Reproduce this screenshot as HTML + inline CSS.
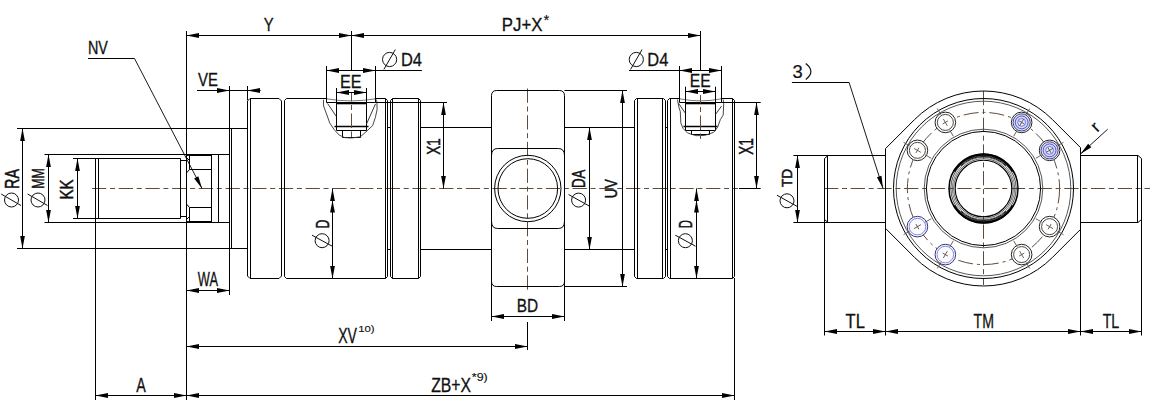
<!DOCTYPE html>
<html><head><meta charset="utf-8"><style>
html,body{margin:0;padding:0;background:#fff;width:1150px;height:404px;overflow:hidden}
svg{display:block;font-family:"Liberation Sans",sans-serif}
</style></head><body>
<svg width="1150" height="404" viewBox="0 0 1150 404">
<line x1="92" y1="188.5" x2="738" y2="188.5" stroke="#5e4c3c" stroke-width="1" stroke-dasharray="14.3,3.7,5,3.7" stroke-dashoffset="0"/>
<line x1="527.5" y1="88.5" x2="527.5" y2="292" stroke="#5e4c3c" stroke-width="1" stroke-dasharray="14.3,3.7,5,3.7" stroke-dashoffset="0"/>
<line x1="351.5" y1="93" x2="351.5" y2="140" stroke="#5e4c3c" stroke-width="1" stroke-dasharray="14.3,3.7,5,3.7" stroke-dashoffset="6"/>
<line x1="700.5" y1="95" x2="700.5" y2="139" stroke="#5e4c3c" stroke-width="1" stroke-dasharray="14.3,3.7,5,3.7" stroke-dashoffset="6"/>
<line x1="186.5" y1="35.5" x2="700.5" y2="35.5" stroke="#000" stroke-width="1"/>
<path d="M186.5,35.5 L199,33.1 L199,37.9 Z" fill="#000"/>
<path d="M351.5,35.5 L339,37.9 L339,33.1 Z" fill="#000"/>
<path d="M351.5,35.5 L364,33.1 L364,37.9 Z" fill="#000"/>
<path d="M700.5,35.5 L688,37.9 L688,33.1 Z" fill="#000"/>
<line x1="186.5" y1="31" x2="186.5" y2="400" stroke="#000" stroke-width="1"/>
<line x1="351.5" y1="31" x2="351.5" y2="70" stroke="#000" stroke-width="1"/>
<line x1="700.5" y1="31" x2="700.5" y2="70" stroke="#000" stroke-width="1"/>
<text x="263.83" y="31.45" font-size="19.04" textLength="9.85" lengthAdjust="spacingAndGlyphs" fill="#111" stroke="#111" stroke-width="0.3">Y</text>
<text x="501.87" y="31.26" font-size="18.91" textLength="40.63" lengthAdjust="spacingAndGlyphs" fill="#111" stroke="#111" stroke-width="0.3">PJ+X</text>
<text x="543.78" y="25.4" font-size="14.25" textLength="5.34" lengthAdjust="spacingAndGlyphs" fill="#111" stroke="#111" stroke-width="0.2">*</text>
<path d="M250,98.5 L279,98.5 L281.5,101 L281.5,276 L279,278.5 L250,278.5 L247.5,276 L247.5,101Z" fill="none" stroke="#000" stroke-width="1" stroke-linejoin="miter"/>
<line x1="250.5" y1="98.5" x2="250.5" y2="278.5" stroke="#000" stroke-width="1"/>
<path d="M286.5,98.5 L385.5,98.5 L387.5,100.5 L387.5,276.5 L385.5,278.5 L286.5,278.5 L284.5,276.5 L284.5,100.5Z" fill="none" stroke="#000" stroke-width="1" stroke-linejoin="miter"/>
<line x1="385.5" y1="98.5" x2="385.5" y2="278.5" stroke="#000" stroke-width="1"/>
<path d="M392.5,98.5 L418.5,98.5 L420.5,100.5 L420.5,276.5 L418.5,278.5 L392.5,278.5 L390.5,276.5 L390.5,100.5Z" fill="none" stroke="#000" stroke-width="1" stroke-linejoin="miter"/>
<line x1="392.5" y1="98.5" x2="392.5" y2="278.5" stroke="#000" stroke-width="1"/>
<line x1="418.5" y1="98.5" x2="418.5" y2="278.5" stroke="#000" stroke-width="1"/>
<path d="M636.5,98.5 L663.5,98.5 L665.5,100.5 L665.5,276.5 L663.5,278.5 L636.5,278.5 L634.5,276.5 L634.5,100.5Z" fill="none" stroke="#000" stroke-width="1" stroke-linejoin="miter"/>
<line x1="637.5" y1="98.5" x2="637.5" y2="278.5" stroke="#000" stroke-width="1"/>
<line x1="662.5" y1="98.5" x2="662.5" y2="278.5" stroke="#000" stroke-width="1"/>
<path d="M669.5,98.5 L732.5,98.5 L734.5,100.5 L734.5,276.5 L732.5,278.5 L669.5,278.5 L667.5,276.5 L667.5,100.5Z" fill="none" stroke="#000" stroke-width="1" stroke-linejoin="miter"/>
<line x1="670.5" y1="98.5" x2="670.5" y2="278.5" stroke="#000" stroke-width="1"/>
<line x1="732.5" y1="98.5" x2="732.5" y2="278.5" stroke="#000" stroke-width="1"/>
<rect x="327.1" y="96" width="47.8" height="6" fill="#fff"/>
<path d="M326.5,98.8 Q351,103 375.5,98.8" fill="none" stroke="#555" stroke-width="0.8" />
<line x1="326.5" y1="102.5" x2="375.5" y2="102.5" stroke="#000" stroke-width="1"/>
<line x1="336.5" y1="103.5" x2="366.5" y2="103.5" stroke="#000" stroke-width="1.6"/>
<line x1="336.5" y1="102.5" x2="336.5" y2="130.5" stroke="#000" stroke-width="1"/>
<line x1="366.5" y1="102.5" x2="366.5" y2="130.5" stroke="#000" stroke-width="1"/>
<line x1="334.5" y1="126.5" x2="368.5" y2="126.5" stroke="#000" stroke-width="1.3"/>
<line x1="336.5" y1="130.5" x2="366.5" y2="130.5" stroke="#000" stroke-width="1"/>
<path d="M342.5,130.5 L342.5,137.5 L360.5,137.5 L360.5,130.5" fill="none" stroke="#000" stroke-width="1" stroke-linejoin="miter"/>
<path d="M323.5,99.7 323.6,106 326.9,115 329.7,122.9 334.2,129.6 339.2,135.1 344.8,137.6 351.4,138 360.4,136.8 366,131.8 372.6,125.7 375.4,117.3 377.1,109.5 376.9,101.7 375.7,99" fill="none" stroke="#333" stroke-width="0.9" stroke-linejoin="round"/>
<line x1="327.5" y1="103.4" x2="336.5" y2="116.7" stroke="#222" stroke-width="0.9"/>
<line x1="366.5" y1="124" x2="375.5" y2="103.9" stroke="#222" stroke-width="0.9"/>
<rect x="680.1" y="96" width="40.8" height="6" fill="#fff"/>
<path d="M679.5,98.8 Q700.5,103 721.5,98.8" fill="none" stroke="#555" stroke-width="0.8" />
<line x1="679.5" y1="102.5" x2="721.5" y2="102.5" stroke="#000" stroke-width="1"/>
<line x1="685.5" y1="103.5" x2="715.5" y2="103.5" stroke="#000" stroke-width="1.6"/>
<line x1="685.5" y1="102.5" x2="685.5" y2="130.5" stroke="#000" stroke-width="1"/>
<line x1="715.5" y1="102.5" x2="715.5" y2="130.5" stroke="#000" stroke-width="1"/>
<line x1="683.5" y1="126.5" x2="717.5" y2="126.5" stroke="#000" stroke-width="1.3"/>
<line x1="685.5" y1="130.5" x2="715.5" y2="130.5" stroke="#000" stroke-width="1"/>
<path d="M691.5,130.5 L691.5,134.5 L709.5,134.5 L709.5,130.5" fill="none" stroke="#000" stroke-width="1" stroke-linejoin="miter"/>
<path d="M677.5,99.5 678.6,106.1 680.3,111.7 680.8,122.9 683,128.4 687.5,132.9 695.9,135.7 704.8,135.4 713.7,132.3 717.6,127.3 720.4,119.5 723.2,115.1 723.7,103.9 723.2,99.5" fill="none" stroke="#333" stroke-width="0.9" stroke-linejoin="round"/>
<line x1="678.6" y1="103.4" x2="685.5" y2="113.4" stroke="#222" stroke-width="0.9"/>
<line x1="715.5" y1="114.5" x2="721.5" y2="106.1" stroke="#222" stroke-width="0.9"/>
<line x1="351.5" y1="93" x2="351.5" y2="140" stroke="#5e4c3c" stroke-width="1" stroke-dasharray="14.3,3.7,5,3.7" stroke-dashoffset="6"/>
<line x1="700.5" y1="95" x2="700.5" y2="139" stroke="#5e4c3c" stroke-width="1" stroke-dasharray="14.3,3.7,5,3.7" stroke-dashoffset="6"/>
<line x1="326.5" y1="70.5" x2="421.9" y2="70.5" stroke="#000" stroke-width="1"/>
<path d="M326.5,70.5 L339,68.1 L339,72.9 Z" fill="#000"/>
<path d="M375.5,70.5 L363,72.9 L363,68.1 Z" fill="#000"/>
<line x1="326.5" y1="66" x2="326.5" y2="102.5" stroke="#000" stroke-width="1"/>
<line x1="375.5" y1="66" x2="375.5" y2="102.5" stroke="#000" stroke-width="1"/>
<text x="340.03" y="87.85" font-size="18.46" textLength="21.52" lengthAdjust="spacingAndGlyphs" fill="#111" stroke="#111" stroke-width="0.3">EE</text>
<line x1="336.5" y1="92.5" x2="366.5" y2="92.5" stroke="#000" stroke-width="1"/>
<path d="M336.5,92.5 L349,90.1 L349,94.9 Z" fill="#000"/>
<path d="M366.5,92.5 L354,94.9 L354,90.1 Z" fill="#000"/>
<line x1="336.5" y1="88" x2="336.5" y2="103" stroke="#000" stroke-width="1"/>
<line x1="366.5" y1="88" x2="366.5" y2="103" stroke="#000" stroke-width="1"/>
<circle cx="389.6" cy="59.5" r="7.1" fill="none" stroke="#111" stroke-width="1"/>
<line x1="383.85" y1="69.46" x2="395.35" y2="49.54" stroke="#111" stroke-width="1"/>
<text x="400.9" y="66.35" font-size="18.9" textLength="21.03" lengthAdjust="spacingAndGlyphs" fill="#111" stroke="#111" stroke-width="0.3">D4</text>
<line x1="629" y1="70.5" x2="721.6" y2="70.5" stroke="#000" stroke-width="1"/>
<path d="M679.5,70.5 L692,68.1 L692,72.9 Z" fill="#000"/>
<path d="M721.5,70.5 L709,72.9 L709,68.1 Z" fill="#000"/>
<line x1="679.5" y1="66" x2="679.5" y2="102.5" stroke="#000" stroke-width="1"/>
<line x1="721.5" y1="66" x2="721.5" y2="102.5" stroke="#000" stroke-width="1"/>
<text x="689.77" y="87.15" font-size="17.59" textLength="20.85" lengthAdjust="spacingAndGlyphs" fill="#111" stroke="#111" stroke-width="0.3">EE</text>
<line x1="685.5" y1="91.5" x2="715.5" y2="91.5" stroke="#000" stroke-width="1"/>
<path d="M685.5,91.5 L698,89.1 L698,93.9 Z" fill="#000"/>
<path d="M715.5,91.5 L703,93.9 L703,89.1 Z" fill="#000"/>
<line x1="685.5" y1="86.7" x2="685.5" y2="103" stroke="#000" stroke-width="1"/>
<line x1="715.5" y1="86.7" x2="715.5" y2="103" stroke="#000" stroke-width="1"/>
<circle cx="636.3" cy="59.5" r="7.1" fill="none" stroke="#111" stroke-width="1"/>
<line x1="630.55" y1="69.46" x2="642.05" y2="49.54" stroke="#111" stroke-width="1"/>
<text x="647.3" y="66.35" font-size="18.9" textLength="21.03" lengthAdjust="spacingAndGlyphs" fill="#111" stroke="#111" stroke-width="0.3">D4</text>
<line x1="197" y1="90.5" x2="260.6" y2="90.5" stroke="#000" stroke-width="1"/>
<path d="M229.5,90.5 L217,92.9 L217,88.1 Z" fill="#000"/>
<path d="M247.5,90.5 L260,88.1 L260,92.9 Z" fill="#000"/>
<line x1="229.5" y1="86" x2="229.5" y2="128.5" stroke="#000" stroke-width="1"/>
<line x1="247.5" y1="86" x2="247.5" y2="100" stroke="#000" stroke-width="1"/>
<text x="198.08" y="86.35" font-size="19.19" textLength="19.92" lengthAdjust="spacingAndGlyphs" fill="#111" stroke="#111" stroke-width="0.3">VE</text>
<text x="87.97" y="54.35" font-size="19.19" textLength="19.95" lengthAdjust="spacingAndGlyphs" fill="#111" stroke="#111" stroke-width="0.3">NV</text>
<line x1="88" y1="58.5" x2="134.5" y2="58.5" stroke="#000" stroke-width="1"/>
<line x1="134.5" y1="58.5" x2="202" y2="188.5" stroke="#000" stroke-width="0.9"/>
<path d="M202,188.5 L194.11,178.51 L198.37,176.3 Z" fill="#000"/>
<line x1="17" y1="128.5" x2="247.5" y2="128.5" stroke="#000" stroke-width="1"/>
<line x1="17" y1="248.5" x2="247.5" y2="248.5" stroke="#000" stroke-width="1"/>
<line x1="22.5" y1="128.5" x2="22.5" y2="248.5" stroke="#000" stroke-width="1"/>
<path d="M22.5,128.5 L24.9,141 L20.1,141 Z" fill="#000"/>
<path d="M22.5,248.5 L20.1,236 L24.9,236 Z" fill="#000"/>
<line x1="44.5" y1="154.5" x2="229" y2="154.5" stroke="#000" stroke-width="1"/>
<line x1="44.5" y1="222.5" x2="229" y2="222.5" stroke="#000" stroke-width="1"/>
<line x1="48.5" y1="154.5" x2="48.5" y2="222.5" stroke="#000" stroke-width="1"/>
<path d="M48.5,154.5 L50.9,167 L46.1,167 Z" fill="#000"/>
<path d="M48.5,222.5 L46.1,210 L50.9,210 Z" fill="#000"/>
<line x1="73" y1="158.5" x2="180.5" y2="158.5" stroke="#000" stroke-width="1"/>
<line x1="73" y1="218.5" x2="180.5" y2="218.5" stroke="#000" stroke-width="1"/>
<line x1="77.5" y1="158.5" x2="77.5" y2="218.5" stroke="#000" stroke-width="1"/>
<path d="M77.5,158.5 L79.9,171 L75.1,171 Z" fill="#000"/>
<path d="M77.5,218.5 L75.1,206 L79.9,206 Z" fill="#000"/>
<text transform="translate(18.55,187.75) rotate(-90)" x="-1.18" y="0" font-size="19.33" textLength="19.91" lengthAdjust="spacingAndGlyphs" fill="#111" stroke="#111" stroke-width="0.5">RA</text>
<circle cx="11.5" cy="200" r="7" fill="none" stroke="#111" stroke-width="1"/>
<line x1="1.11" y1="194" x2="21.03" y2="205.5" stroke="#111" stroke-width="1"/>
<text transform="translate(43.75,187.75) rotate(-90)" x="-1.02" y="0" font-size="17.15" textLength="20.74" lengthAdjust="spacingAndGlyphs" fill="#111" stroke="#111" stroke-width="0.5">MM</text>
<circle cx="38" cy="200" r="7" fill="none" stroke="#111" stroke-width="1"/>
<line x1="27.61" y1="194" x2="47.53" y2="205.5" stroke="#111" stroke-width="1"/>
<text transform="translate(73.15,198.35) rotate(-90)" x="-1.24" y="0" font-size="18.02" textLength="20.23" lengthAdjust="spacingAndGlyphs" fill="#111" stroke="#111" stroke-width="0.5">KK</text>
<line x1="95.5" y1="158.5" x2="95.5" y2="400" stroke="#000" stroke-width="1"/>
<line x1="98.5" y1="158.5" x2="98.5" y2="218.5" stroke="#000" stroke-width="1"/>
<line x1="180.5" y1="158.5" x2="180.5" y2="218.5" stroke="#000" stroke-width="1"/>
<line x1="180.5" y1="160.5" x2="186.5" y2="160.5" stroke="#000" stroke-width="1"/>
<line x1="180.5" y1="216.5" x2="186.5" y2="216.5" stroke="#000" stroke-width="1"/>
<line x1="186.5" y1="155" x2="211.5" y2="155" stroke="#000" stroke-width="1.8"/>
<line x1="186.5" y1="222" x2="211.5" y2="222" stroke="#000" stroke-width="1.8"/>
<path d="M189.5,155.5 L211.5,155.5 L211.5,169.5 L189.5,169.5 L189.5,155.5" fill="none" stroke="#000" stroke-width="1" stroke-linejoin="miter"/>
<path d="M189.5,207.5 L211.5,207.5 L211.5,221.5 L189.5,221.5 L189.5,207.5" fill="none" stroke="#000" stroke-width="1" stroke-linejoin="miter"/>
<line x1="186.5" y1="157.5" x2="189.5" y2="160.5" stroke="#000" stroke-width="1"/>
<line x1="186.5" y1="219.5" x2="189.5" y2="216.5" stroke="#000" stroke-width="1"/>
<line x1="189.5" y1="169.5" x2="186.5" y2="173" stroke="#000" stroke-width="1"/>
<line x1="189.5" y1="207.5" x2="186.5" y2="204" stroke="#000" stroke-width="1"/>
<line x1="211.5" y1="154.5" x2="211.5" y2="222.5" stroke="#000" stroke-width="1"/>
<line x1="218.5" y1="154.5" x2="218.5" y2="222.5" stroke="#000" stroke-width="1"/>
<line x1="229.5" y1="128.5" x2="229.5" y2="248.5" stroke="#000" stroke-width="1"/>
<line x1="231.5" y1="128.5" x2="231.5" y2="248.5" stroke="#000" stroke-width="1"/>
<line x1="186.5" y1="290.5" x2="229.5" y2="290.5" stroke="#000" stroke-width="1"/>
<path d="M186.5,290.5 L199,288.1 L199,292.9 Z" fill="#000"/>
<path d="M229.5,290.5 L217,292.9 L217,288.1 Z" fill="#000"/>
<line x1="229.5" y1="248.5" x2="229.5" y2="295" stroke="#000" stroke-width="1"/>
<text x="197.79" y="286.45" font-size="19.62" textLength="20.19" lengthAdjust="spacingAndGlyphs" fill="#111" stroke="#111" stroke-width="0.3">WA</text>
<line x1="95.5" y1="395.5" x2="734.5" y2="395.5" stroke="#000" stroke-width="1"/>
<path d="M95.5,395.5 L108,393.1 L108,397.9 Z" fill="#000"/>
<path d="M186.5,395.5 L174,397.9 L174,393.1 Z" fill="#000"/>
<path d="M186.5,395.5 L199,393.1 L199,397.9 Z" fill="#000"/>
<path d="M734.5,395.5 L722,397.9 L722,393.1 Z" fill="#000"/>
<text x="136.32" y="391.65" font-size="19.62" textLength="9.56" lengthAdjust="spacingAndGlyphs" fill="#111" stroke="#111" stroke-width="0.3">A</text>
<text x="431.15" y="391.65" font-size="20.35" textLength="39.83" lengthAdjust="spacingAndGlyphs" fill="#111" stroke="#111" stroke-width="0.3">ZB+X</text>
<text x="471.88" y="381.35" font-size="10.03" textLength="15.82" lengthAdjust="spacingAndGlyphs" fill="#111" stroke="#111" stroke-width="0.15">*9)</text>
<line x1="186.5" y1="346.5" x2="527.5" y2="346.5" stroke="#000" stroke-width="1"/>
<path d="M186.5,346.5 L199,344.1 L199,348.9 Z" fill="#000"/>
<path d="M527.5,346.5 L515,348.9 L515,344.1 Z" fill="#000"/>
<line x1="527.5" y1="322" x2="527.5" y2="350" stroke="#000" stroke-width="1"/>
<text x="338.13" y="342.85" font-size="21.37" textLength="18.79" lengthAdjust="spacingAndGlyphs" fill="#111" stroke="#111" stroke-width="0.3">XV</text>
<text x="358.21" y="332.19" font-size="9.82" textLength="16.42" lengthAdjust="spacingAndGlyphs" fill="#111" stroke="#111" stroke-width="0.15">10)</text>
<line x1="734.5" y1="278" x2="734.5" y2="400" stroke="#000" stroke-width="1"/>
<line x1="420.5" y1="127.5" x2="491.5" y2="127.5" stroke="#000" stroke-width="1"/>
<line x1="564.5" y1="127.5" x2="634.5" y2="127.5" stroke="#000" stroke-width="1"/>
<line x1="420.5" y1="249.5" x2="491.5" y2="249.5" stroke="#000" stroke-width="1"/>
<line x1="564.5" y1="249.5" x2="634.5" y2="249.5" stroke="#000" stroke-width="1"/>
<line x1="387.5" y1="127.5" x2="390.5" y2="127.5" stroke="#000" stroke-width="1"/>
<line x1="387.5" y1="249.5" x2="390.5" y2="249.5" stroke="#000" stroke-width="1"/>
<line x1="665.5" y1="127.5" x2="667.5" y2="127.5" stroke="#000" stroke-width="1"/>
<line x1="665.5" y1="249.5" x2="667.5" y2="249.5" stroke="#000" stroke-width="1"/>
<path d="M496.7,90.5 L559.3,90.5 Q564.5,90.5 564.5,95.7 L564.5,281.3 Q564.5,286.5 559.3,286.5 L496.7,286.5 Q491.5,286.5 491.5,281.3 L491.5,95.7 Q491.5,90.5 496.7,90.5 Z" fill="none" stroke="#000" stroke-width="1" />
<path d="M491.5,155.7 Q491.5,148.5 497.7,148.5 L558.3,148.5 Q564.5,148.5 564.5,155.7" fill="none" stroke="#000" stroke-width="1" />
<path d="M491.5,221.3 Q491.5,228.5 497.7,228.5 L558.3,228.5 Q564.5,228.5 564.5,221.3" fill="none" stroke="#000" stroke-width="1" />
<circle cx="527.8" cy="188.5" r="33.2" fill="none" stroke="#000" stroke-width="1"/>
<circle cx="527.8" cy="188.5" r="29.8" fill="none" stroke="#000" stroke-width="1"/>
<line x1="491.5" y1="316.5" x2="564.5" y2="316.5" stroke="#000" stroke-width="1"/>
<path d="M491.5,316.5 L504,314.1 L504,318.9 Z" fill="#000"/>
<path d="M564.5,316.5 L552,318.9 L552,314.1 Z" fill="#000"/>
<line x1="491.5" y1="281" x2="491.5" y2="321" stroke="#000" stroke-width="1"/>
<line x1="564.5" y1="281" x2="564.5" y2="321" stroke="#000" stroke-width="1"/>
<text x="516.69" y="312.25" font-size="19.04" textLength="21.41" lengthAdjust="spacingAndGlyphs" fill="#111" stroke="#111" stroke-width="0.3">BD</text>
<line x1="375.5" y1="102.5" x2="447" y2="102.5" stroke="#000" stroke-width="1"/>
<line x1="443.5" y1="102.5" x2="443.5" y2="188.5" stroke="#000" stroke-width="1"/>
<path d="M443.5,102.5 L445.9,115 L441.1,115 Z" fill="#000"/>
<path d="M443.5,188.5 L441.1,176 L445.9,176 Z" fill="#000"/>
<text transform="translate(439.55,154.45) rotate(-90)" x="-0.31" y="0" font-size="18.75" textLength="16.47" lengthAdjust="spacingAndGlyphs" fill="#111" stroke="#111" stroke-width="0.5">X1</text>
<line x1="332.5" y1="188.5" x2="332.5" y2="278.5" stroke="#000" stroke-width="1"/>
<path d="M332.5,188.5 L334.9,201 L330.1,201 Z" fill="#000"/>
<path d="M332.5,200 L334.9,212.5 L330.1,212.5 Z" fill="#000"/>
<path d="M332.5,278.5 L330.1,266 L334.9,266 Z" fill="#000"/>
<text transform="translate(328.65,227.25) rotate(-90)" x="-0.97" y="0" font-size="18.46" textLength="8.54" lengthAdjust="spacingAndGlyphs" fill="#111" stroke="#111" stroke-width="0.5">D</text>
<circle cx="322.1" cy="240.7" r="7" fill="none" stroke="#111" stroke-width="1"/>
<line x1="312" y1="235.2" x2="332.2" y2="246.2" stroke="#111" stroke-width="1"/>
<line x1="589.5" y1="127.5" x2="589.5" y2="249.5" stroke="#000" stroke-width="1"/>
<path d="M589.5,127.5 L591.9,140 L587.1,140 Z" fill="#000"/>
<path d="M589.5,249.5 L587.1,237 L591.9,237 Z" fill="#000"/>
<text transform="translate(585.15,186.95) rotate(-90)" x="-1.09" y="0" font-size="18.6" textLength="18.52" lengthAdjust="spacingAndGlyphs" fill="#111" stroke="#111" stroke-width="0.5">DA</text>
<circle cx="578.6" cy="200.1" r="7" fill="none" stroke="#111" stroke-width="1"/>
<line x1="568.54" y1="194.52" x2="589.1" y2="205.92" stroke="#111" stroke-width="1"/>
<line x1="564.5" y1="90.5" x2="627" y2="90.5" stroke="#000" stroke-width="1"/>
<line x1="564.5" y1="286.5" x2="627" y2="286.5" stroke="#000" stroke-width="1"/>
<line x1="622.5" y1="90.5" x2="622.5" y2="286.5" stroke="#000" stroke-width="1"/>
<path d="M622.5,90.5 L624.9,103 L620.1,103 Z" fill="#000"/>
<path d="M622.5,286.5 L620.1,274 L624.9,274 Z" fill="#000"/>
<text transform="translate(617.39,197.15) rotate(-90)" x="-1.05" y="0" font-size="16.48" textLength="19.03" lengthAdjust="spacingAndGlyphs" fill="#111" stroke="#111" stroke-width="0.5">UV</text>
<line x1="696.5" y1="188.5" x2="696.5" y2="278.5" stroke="#000" stroke-width="1"/>
<path d="M696.5,188.5 L698.9,201 L694.1,201 Z" fill="#000"/>
<path d="M696.5,200 L698.9,212.5 L694.1,212.5 Z" fill="#000"/>
<path d="M696.5,278.5 L694.1,266 L698.9,266 Z" fill="#000"/>
<text transform="translate(691.55,227.25) rotate(-90)" x="-0.93" y="0" font-size="17.88" textLength="8.17" lengthAdjust="spacingAndGlyphs" fill="#111" stroke="#111" stroke-width="0.5">D</text>
<circle cx="685.4" cy="240.7" r="7" fill="none" stroke="#111" stroke-width="1"/>
<line x1="675.3" y1="235.2" x2="695.5" y2="246.2" stroke="#111" stroke-width="1"/>
<line x1="721.5" y1="102.5" x2="760.7" y2="102.5" stroke="#000" stroke-width="1"/>
<line x1="739" y1="188.5" x2="760.7" y2="188.5" stroke="#000" stroke-width="1"/>
<line x1="756.5" y1="102.5" x2="756.5" y2="188.5" stroke="#000" stroke-width="1"/>
<path d="M756.5,102.5 L758.9,115 L754.1,115 Z" fill="#000"/>
<path d="M756.5,188.5 L754.1,176 L758.9,176 Z" fill="#000"/>
<text transform="translate(752.75,154.45) rotate(-90)" x="-0.31" y="0" font-size="19.91" textLength="16.68" lengthAdjust="spacingAndGlyphs" fill="#111" stroke="#111" stroke-width="0.5">X1</text>
<line x1="824" y1="188.5" x2="1150" y2="188.5" stroke="#5e4c3c" stroke-width="1" stroke-dasharray="14.3,3.7,5,3.7" stroke-dashoffset="0"/>
<line x1="983.5" y1="91" x2="983.5" y2="285" stroke="#5e4c3c" stroke-width="1" stroke-dasharray="14.3,3.7,5,3.7" stroke-dashoffset="0"/>
<line x1="793.4" y1="155.5" x2="885.5" y2="155.5" stroke="#000" stroke-width="1"/>
<line x1="793.4" y1="222.5" x2="885.5" y2="222.5" stroke="#000" stroke-width="1"/>
<line x1="797.5" y1="155.5" x2="797.5" y2="222.5" stroke="#000" stroke-width="1"/>
<path d="M797.5,155.5 L799.9,168 L795.1,168 Z" fill="#000"/>
<path d="M797.5,222.5 L795.1,210 L799.9,210 Z" fill="#000"/>
<text transform="translate(791.95,186.75) rotate(-90)" x="-0.3" y="0" font-size="14.39" textLength="18.26" lengthAdjust="spacingAndGlyphs" fill="#111" stroke="#111" stroke-width="0.5">TD</text>
<circle cx="787" cy="200.8" r="7" fill="none" stroke="#111" stroke-width="1"/>
<line x1="776.94" y1="195.22" x2="797.06" y2="206.38" stroke="#111" stroke-width="1"/>
<line x1="824.5" y1="158.5" x2="824.5" y2="335.5" stroke="#000" stroke-width="1"/>
<line x1="824.5" y1="158.5" x2="828" y2="155.5" stroke="#000" stroke-width="1"/>
<line x1="824.5" y1="219.5" x2="828" y2="222.5" stroke="#000" stroke-width="1"/>
<line x1="827.5" y1="155.5" x2="827.5" y2="222.5" stroke="#000" stroke-width="1"/>
<line x1="1080.5" y1="155.5" x2="1138" y2="155.5" stroke="#000" stroke-width="1"/>
<line x1="1080.5" y1="222.5" x2="1138" y2="222.5" stroke="#000" stroke-width="1"/>
<line x1="1138" y1="155.5" x2="1141.5" y2="158.5" stroke="#000" stroke-width="1"/>
<line x1="1138" y1="222.5" x2="1141.5" y2="219.5" stroke="#000" stroke-width="1"/>
<line x1="1137.5" y1="155.5" x2="1137.5" y2="222.5" stroke="#000" stroke-width="1"/>
<line x1="1141.5" y1="158.5" x2="1141.5" y2="335.5" stroke="#000" stroke-width="1"/>
<path d="M885.5,148.61 L914.56,119.56 A97.5,97.5 0 0 1 1052.44,119.56 L1080.5,147.61 L1080.5,229.39 L1052.44,257.44 A97.5,97.5 0 0 1 914.56,257.44 L885.5,228.39 Z" fill="none" stroke="#000" stroke-width="1" />
<line x1="885.5" y1="222" x2="885.5" y2="335.5" stroke="#000" stroke-width="1"/>
<line x1="1080.5" y1="222" x2="1080.5" y2="335.5" stroke="#000" stroke-width="1"/>
<circle cx="983.5" cy="188.5" r="90" fill="none" stroke="#000" stroke-width="1"/>
<circle cx="983.5" cy="188.5" r="87.3" fill="none" stroke="#444" stroke-width="0.9"/>
<circle cx="983.5" cy="188.5" r="76.1" fill="none" stroke="#5e4c3c" stroke-width="1" stroke-dasharray="15,4,3,4"/>
<circle cx="983.5" cy="188.5" r="59.3" fill="none" stroke="#444" stroke-width="0.9"/>
<circle cx="983.5" cy="188.5" r="57.1" fill="none" stroke="#000" stroke-width="1"/>
<circle cx="983.5" cy="188.5" r="34.5" fill="none" stroke="#000" stroke-width="1.5"/>
<circle cx="983.5" cy="188.5" r="32.7" fill="none" stroke="#222" stroke-width="0.8"/>
<circle cx="983.5" cy="188.5" r="31.2" fill="none" stroke="#444" stroke-width="0.7"/>
<circle cx="983.5" cy="188.5" r="29.8" fill="none" stroke="#333" stroke-width="0.8"/>
<circle cx="983.5" cy="188.5" r="28.3" fill="none" stroke="#000" stroke-width="1.1"/>
<path d="M1012.86,171.55 A33.9,33.9 0 0 0 954.14,171.55" fill="none" stroke="#000" stroke-width="2.2" />
<path d="M954.14,205.45 A33.9,33.9 0 0 0 1012.86,205.45" fill="none" stroke="#000" stroke-width="2.2" />
<path d="M1006.13,165.87 A32,32 0 0 0 960.87,165.87" fill="none" stroke="#111" stroke-width="1" />
<path d="M960.87,211.13 A32,32 0 0 0 1006.13,211.13" fill="none" stroke="#111" stroke-width="1" />
<circle cx="1049.58" cy="150.35" r="10.3" fill="#fff" stroke="#222" stroke-width="1"/>
<circle cx="1049.58" cy="150.35" r="8.6" fill="#d3d8fa" stroke="#333366" stroke-width="0.9"/>
<circle cx="1049.58" cy="150.35" r="6.4" fill="none" stroke="#4848c8" stroke-width="0.9"/>
<circle cx="1049.58" cy="150.35" r="3.9" fill="#e6e9fd" stroke="#5a5ad0" stroke-width="0.8"/>
<line x1="1035.72" y1="158.35" x2="1041.78" y2="154.85" stroke="#5e4c3c" stroke-width="0.9"/>
<line x1="1057.37" y1="145.85" x2="1063.43" y2="142.35" stroke="#5e4c3c" stroke-width="0.9"/>
<line x1="1046.11" y1="152.35" x2="1053.04" y2="148.35" stroke="#5e4c3c" stroke-width="0.9"/>
<line x1="1051.08" y1="152.95" x2="1048.08" y2="147.75" stroke="#5e4c3c" stroke-width="0.9"/>
<circle cx="1021.65" cy="122.42" r="10.3" fill="#fff" stroke="#222" stroke-width="1"/>
<circle cx="1021.65" cy="122.42" r="8.6" fill="#d3d8fa" stroke="#333366" stroke-width="0.9"/>
<circle cx="1021.65" cy="122.42" r="6.4" fill="none" stroke="#4848c8" stroke-width="0.9"/>
<circle cx="1021.65" cy="122.42" r="3.9" fill="#e6e9fd" stroke="#5a5ad0" stroke-width="0.8"/>
<line x1="1013.65" y1="136.28" x2="1017.15" y2="130.22" stroke="#5e4c3c" stroke-width="0.9"/>
<line x1="1026.15" y1="114.63" x2="1029.65" y2="108.57" stroke="#5e4c3c" stroke-width="0.9"/>
<line x1="1019.65" y1="125.89" x2="1023.65" y2="118.96" stroke="#5e4c3c" stroke-width="0.9"/>
<line x1="1024.25" y1="123.92" x2="1019.05" y2="120.92" stroke="#5e4c3c" stroke-width="0.9"/>
<circle cx="945.35" cy="122.42" r="10.3" fill="#fff" stroke="#222" stroke-width="1"/>
<circle cx="945.35" cy="122.42" r="8" fill="none" stroke="#333" stroke-width="0.9"/>
<line x1="953.35" y1="136.28" x2="949.85" y2="130.22" stroke="#5e4c3c" stroke-width="0.9"/>
<line x1="940.85" y1="114.63" x2="937.35" y2="108.57" stroke="#5e4c3c" stroke-width="0.9"/>
<line x1="947.35" y1="125.89" x2="943.35" y2="118.96" stroke="#5e4c3c" stroke-width="0.9"/>
<line x1="947.95" y1="120.92" x2="942.75" y2="123.92" stroke="#5e4c3c" stroke-width="0.9"/>
<circle cx="917.42" cy="150.35" r="10.3" fill="#fff" stroke="#222" stroke-width="1"/>
<circle cx="917.42" cy="150.35" r="8" fill="none" stroke="#333" stroke-width="0.9"/>
<line x1="931.28" y1="158.35" x2="925.22" y2="154.85" stroke="#5e4c3c" stroke-width="0.9"/>
<line x1="909.63" y1="145.85" x2="903.57" y2="142.35" stroke="#5e4c3c" stroke-width="0.9"/>
<line x1="920.89" y1="152.35" x2="913.96" y2="148.35" stroke="#5e4c3c" stroke-width="0.9"/>
<line x1="918.92" y1="147.75" x2="915.92" y2="152.95" stroke="#5e4c3c" stroke-width="0.9"/>
<circle cx="917.42" cy="226.65" r="10.3" fill="#fafbff" stroke="#34347a" stroke-width="1"/>
<circle cx="917.42" cy="226.65" r="8.3" fill="none" stroke="#6a6ad8" stroke-width="0.8"/>
<line x1="931.28" y1="218.65" x2="925.22" y2="222.15" stroke="#5e4c3c" stroke-width="0.9"/>
<line x1="909.63" y1="231.15" x2="903.57" y2="234.65" stroke="#5e4c3c" stroke-width="0.9"/>
<line x1="920.89" y1="224.65" x2="913.96" y2="228.65" stroke="#5e4c3c" stroke-width="0.9"/>
<line x1="915.92" y1="224.05" x2="918.92" y2="229.25" stroke="#5e4c3c" stroke-width="0.9"/>
<circle cx="945.35" cy="254.58" r="10.3" fill="#fafbff" stroke="#34347a" stroke-width="1"/>
<circle cx="945.35" cy="254.58" r="8.3" fill="none" stroke="#6a6ad8" stroke-width="0.8"/>
<line x1="953.35" y1="240.72" x2="949.85" y2="246.78" stroke="#5e4c3c" stroke-width="0.9"/>
<line x1="940.85" y1="262.37" x2="937.35" y2="268.43" stroke="#5e4c3c" stroke-width="0.9"/>
<line x1="947.35" y1="251.11" x2="943.35" y2="258.04" stroke="#5e4c3c" stroke-width="0.9"/>
<line x1="942.75" y1="253.08" x2="947.95" y2="256.08" stroke="#5e4c3c" stroke-width="0.9"/>
<circle cx="1021.65" cy="254.58" r="10.3" fill="#fff" stroke="#222" stroke-width="1"/>
<circle cx="1021.65" cy="254.58" r="8" fill="none" stroke="#333" stroke-width="0.9"/>
<line x1="1013.65" y1="240.72" x2="1017.15" y2="246.78" stroke="#5e4c3c" stroke-width="0.9"/>
<line x1="1026.15" y1="262.37" x2="1029.65" y2="268.43" stroke="#5e4c3c" stroke-width="0.9"/>
<line x1="1019.65" y1="251.11" x2="1023.65" y2="258.04" stroke="#5e4c3c" stroke-width="0.9"/>
<line x1="1019.05" y1="256.08" x2="1024.25" y2="253.08" stroke="#5e4c3c" stroke-width="0.9"/>
<circle cx="1049.58" cy="226.65" r="10.3" fill="#fff" stroke="#222" stroke-width="1"/>
<circle cx="1049.58" cy="226.65" r="8" fill="none" stroke="#333" stroke-width="0.9"/>
<line x1="1035.72" y1="218.65" x2="1041.78" y2="222.15" stroke="#5e4c3c" stroke-width="0.9"/>
<line x1="1057.37" y1="231.15" x2="1063.43" y2="234.65" stroke="#5e4c3c" stroke-width="0.9"/>
<line x1="1046.11" y1="224.65" x2="1053.04" y2="228.65" stroke="#5e4c3c" stroke-width="0.9"/>
<line x1="1048.08" y1="229.25" x2="1051.08" y2="224.05" stroke="#5e4c3c" stroke-width="0.9"/>
<text x="792.5" y="78.21" font-size="18.64" textLength="10.21" lengthAdjust="spacingAndGlyphs" fill="#111" stroke="#111" stroke-width="0.2">3</text>
<path d="M805.8,63.5 Q816,71.5 805.8,79.5" fill="none" stroke="#111" stroke-width="1.2" />
<line x1="791.9" y1="82.5" x2="849.1" y2="82.5" stroke="#000" stroke-width="1"/>
<line x1="849.1" y1="82.5" x2="883" y2="188.5" stroke="#000" stroke-width="0.9"/>
<path d="M883,188.5 L876.91,177.33 L881.48,175.86 Z" fill="#000"/>
<line x1="1107.7" y1="129.2" x2="1080.5" y2="154" stroke="#000" stroke-width="0.9"/>
<path d="M1080.5,154 L1088.12,143.8 L1091.35,147.35 Z" fill="#000"/>
<text transform="translate(1097,126) rotate(-45)" x="-4.5" y="5" font-size="17" fill="#111" stroke="#111" stroke-width="0.2">r</text>
<line x1="824.5" y1="331.5" x2="1141.5" y2="331.5" stroke="#000" stroke-width="1"/>
<path d="M824.5,331.5 L837,329.1 L837,333.9 Z" fill="#000"/>
<path d="M885.5,331.5 L873,333.9 L873,329.1 Z" fill="#000"/>
<path d="M885.5,331.5 L898,329.1 L898,333.9 Z" fill="#000"/>
<path d="M1080.5,331.5 L1068,333.9 L1068,329.1 Z" fill="#000"/>
<path d="M1080.5,331.5 L1093,329.1 L1093,333.9 Z" fill="#000"/>
<path d="M1141.5,331.5 L1129,333.9 L1129,329.1 Z" fill="#000"/>
<text x="845.59" y="327.55" font-size="19.33" textLength="19.21" lengthAdjust="spacingAndGlyphs" fill="#111" stroke="#111" stroke-width="0.3">TL</text>
<text x="973.54" y="327.55" font-size="19.33" textLength="20.36" lengthAdjust="spacingAndGlyphs" fill="#111" stroke="#111" stroke-width="0.3">TM</text>
<text x="1102.64" y="327.55" font-size="19.33" textLength="16.69" lengthAdjust="spacingAndGlyphs" fill="#111" stroke="#111" stroke-width="0.3">TL</text>
</svg></body></html>
